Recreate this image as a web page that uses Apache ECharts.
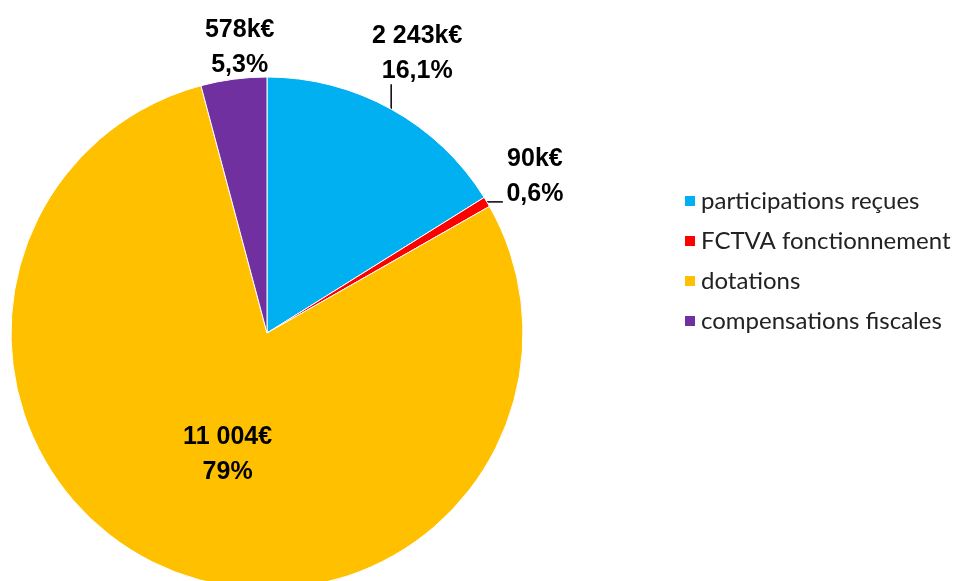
<!DOCTYPE html>
<html><head><meta charset="utf-8">
<script src="https://cdn.jsdelivr.net/npm/echarts@6/dist/echarts.min.js"></script>
<style>html,body{margin:0;padding:0;background:#fff}#c{width:957px;height:581px}</style>
</head><body><div id="c"></div>
<script>
const categories = ['participations reçues', 'FCTVA fonctionnement', 'dotations', 'compensations fiscales'];
const values = [2243, 90, 11004, 578];
const valueLabels = ['2 243k€', '90k€', '11 004€', '578k€'];
const percentLabels = ['16,1%', '0,6%', '79%', '5,3%'];
const colors = ['#00B0F0', '#FF0000', '#FFC000', '#7030A0'];

const CX = 267, CY = 333, R = 256;
const total = values.reduce((a, b) => a + b, 0);
function midAngle(i) {
  let before = 0;
  for (let k = 0; k < i; k++) before += values[k];
  return (before + values[i] / 2) / total * 2 * Math.PI;
}
function edgePoint(i, r) {
  const a = midAngle(i);
  return [CX + r * Math.sin(a), CY - r * Math.cos(a)];
}

const chart = echarts.init(document.getElementById('c'), null, {renderer: 'canvas'});
chart.setOption({
  animation: false,
  color: colors,
  legend: {
    orient: 'vertical', left: 678, top: 184,
    itemWidth: 12, itemHeight: 12, itemGap: 16, icon: 'rect',
    textStyle: {fontFamily: 'Lato', fontSize: 24, lineHeight: 24, color: '#222'},
    data: categories
  },
  series: [{
    type: 'pie',
    center: [CX, CY], radius: R,
    startAngle: 90, clockwise: true,
    avoidLabelOverlap: false,
    itemStyle: {borderColor: '#fff', borderWidth: 1},
    label: {
      show: true,
      formatter: p => valueLabels[p.dataIndex] + '\n' + percentLabels[p.dataIndex],
      fontFamily: '"Liberation Sans Narrow", "Arial Narrow", "Liberation Sans", sans-serif',
      fontWeight: 'bold', fontSize: 25, lineHeight: 35, color: '#000', align: 'center'
    },
    labelLine: {show: true, lineStyle: {color: '#000', width: 1.5}, smooth: false},
    labelLayout: function (p) {
      const i = p.dataIndex;
      if (i === 0) {
        const e = edgePoint(0, R);
        return {x: e[0] + 26, y: e[1] - 56, align: 'center', verticalAlign: 'middle',
                labelLinePoints: [[e[0], e[1]], [e[0], e[1] - 25], [e[0], e[1] - 25]]};
      }
      if (i === 1) {
        const e = edgePoint(1, R);
        return {x: e[0] + 48, y: e[1] - 25, align: 'center', verticalAlign: 'middle',
                labelLinePoints: [[e[0], e[1]], [e[0] + 16, e[1]], [e[0] + 16, e[1]]]};
      }
      if (i === 2) {
        const e = edgePoint(2, R * 0.5);
        return {x: e[0] + 10, y: e[1] + 4, align: 'center', verticalAlign: 'middle',
                labelLinePoints: [[e[0], e[1]], [e[0], e[1]], [e[0], e[1]]]};
      }
      const e = edgePoint(3, R);
      return {x: e[0] + 6, y: e[1] - 32, align: 'center', verticalAlign: 'middle',
              labelLinePoints: [[e[0], e[1]], [e[0], e[1]], [e[0], e[1]]]};
    },
    data: categories.map((n, i) => ({
      name: n, value: values[i],
      labelLine: {show: i < 2}
    }))
  }]
});
</script></body></html>
